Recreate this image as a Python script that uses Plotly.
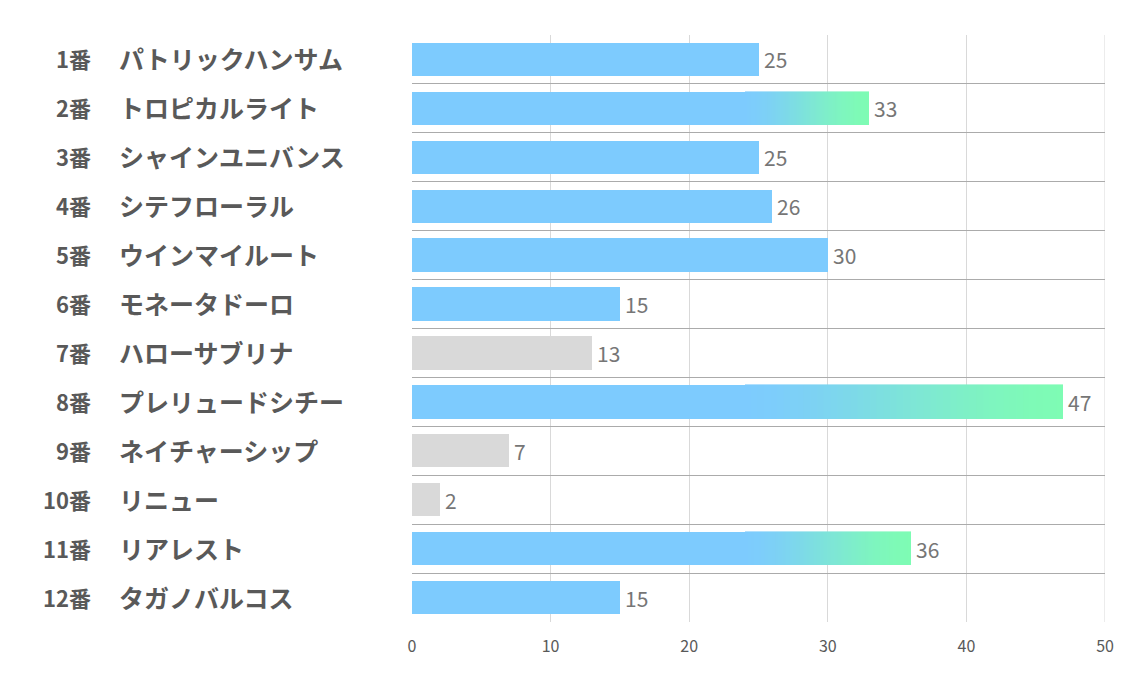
import plotly.graph_objects as go

numbers = ["1番", "2番", "3番", "4番", "5番", "6番", "7番", "8番", "9番", "10番", "11番", "12番"]
names = ["パトリックハンサム", "トロピカルライト", "シャインユニバンス", "シテフローラル", "ウインマイルート",
         "モネータドーロ", "ハローサブリナ", "プレリュードシチー", "ネイチャーシップ", "リニュー", "リアレスト", "タガノバルコス"]
values = [25, 33, 25, 26, 30, 15, 13, 47, 7, 2, 36, 15]
grey_flags = [False, False, False, False, False, False, True, False, True, True, False, False]
gradient_flags = [False, True, False, False, False, False, False, True, False, False, True, False]
gradient_start = 24
x_ticks = [0, 10, 20, 30, 40, 50]

BLUE = (125, 203, 254)
GREEN = (126, 252, 180)
GREY = "#D9D9D9"
rows = list(range(len(values)))

fig = go.Figure()

base_vals = [min(v, gradient_start) if g else v for v, g in zip(values, gradient_flags)]
base_cols = [GREY if gr else "rgb(%d,%d,%d)" % BLUE for gr in grey_flags]
fig.add_trace(go.Bar(y=rows, x=base_vals, orientation="h", width=0.68,
                     marker=dict(color=base_cols, line=dict(width=0)), hoverinfo="skip"))

N = 48
for i in range(N):
    xs, ys, cs = [], [], []
    for r, v, g in zip(rows, values, gradient_flags):
        if not g:
            continue
        seg = (v - gradient_start) / N
        t = (i + 0.5) / N
        t = t * t * (3 - 2 * t) * 0.7 + t * 0.3
        c = tuple(int(round(BLUE[k] + (GREEN[k] - BLUE[k]) * t)) for k in range(3))
        xs.append(seg)
        ys.append(r)
        cs.append("rgb(%d,%d,%d)" % c)
    fig.add_trace(go.Bar(y=ys, x=xs, orientation="h", width=0.68,
                         marker=dict(color=cs, line=dict(width=0.6, color=cs)), hoverinfo="skip"))

left, right, top, bottom = 412, 29, 35, 58
plot_w = 1134 - left - right
for r, num, nm, v in zip(rows, numbers, names, values):
    fig.add_annotation(x=(93 - left) / plot_w, xref="paper", y=r, yref="y", text=num,
                       showarrow=False, xanchor="right", yshift=1,
                       font=dict(family="Noto Sans CJK JP", size=22, color="#595959", weight="bold"))
    fig.add_annotation(x=(117 - left) / plot_w, xref="paper", y=r, yref="y", text=nm,
                       showarrow=False, xanchor="left", yshift=1,
                       font=dict(family="Noto Sans CJK JP", size=25, color="#595959", weight="bold"))
    fig.add_annotation(x=v, xref="x", y=r, yref="y", text=str(v), showarrow=False,
                       xanchor="left", xshift=3, yshift=0,
                       font=dict(family="Noto Sans CJK JP", size=21, color="#767676"))

fig.update_layout(
    width=1134, height=680, margin=dict(l=left, r=right, t=top, b=bottom),
    paper_bgcolor="white", plot_bgcolor="white", barmode="stack", bargap=0,
    showlegend=False,
    xaxis=dict(range=[0, 50], tickvals=x_ticks, showgrid=True, gridcolor="#D9D9D9", gridwidth=1,
               zeroline=False, showline=False, ticks="",
               tickfont=dict(family="Noto Sans CJK JP", size=16, color="#595959"), ticklabelstandoff=13,
               fixedrange=True),
    yaxis=dict(range=[11.5, -0.5], tick0=-0.5, dtick=1, showticklabels=False, showgrid=True,
               gridcolor="#ABABAB", gridwidth=1, zeroline=False, ticks="", fixedrange=True),
)
fig.add_shape(type="line", xref="x", yref="paper", x0=50, x1=50, y0=0, y1=1,
              line=dict(color="#D9D9D9", width=1), layer="below")

fig.write_html("out.html")
